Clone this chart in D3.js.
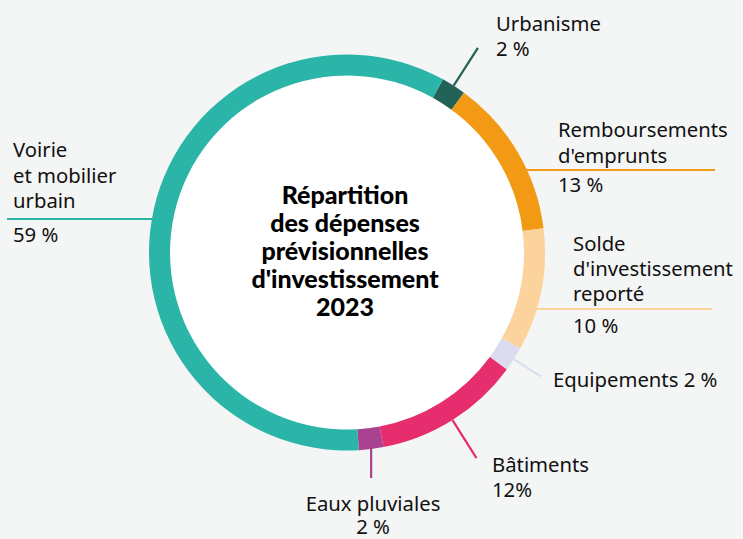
<!DOCTYPE html>
<html>
<head>
<meta charset="utf-8">
<script src="https://cdn.jsdelivr.net/npm/d3@7"></script>
<style>
  body { margin: 0; background: #f4f5f5; }
  svg { display: block; }
</style>
</head>
<body>
<script>
// data, clockwise from Urbanisme
var categories = ["Urbanisme", "Remboursements d'emprunts", "Solde d'investissement reporté",
    "Equipements", "Bâtiments", "Eaux pluviales", "Voirie et mobilier urbain"];
var values = [2, 13, 10, 2, 12, 2, 59];
var colors = ["#236357", "#f39a14", "#fdd39d", "#dcdcf0", "#e62d6e", "#a8428f", "#2bb5a9"];
var labelLines = [
    ["Urbanisme", "2 %"],
    ["Remboursements", "d'emprunts", "13 %"],
    ["Solde", "d'investissement", "reporté", "10 %"],
    ["Equipements 2 %"],
    ["Bâtiments", "12%"],
    ["Eaux pluviales", "2 %"],
    ["Voirie", "et mobilier", "urbain", "59 %"]
];
var titleLines = ["Répartition", "des dépenses", "prévisionnelles", "d'investissement", "2023"];

// layout of labels and leaders
var layout = [
    { leader: "radial", r2: 243, x: 496, y: 31, gaps: [25] },
    { leader: "h", ly: 170, x2: 715, x: 558, y: 137, gaps: [26, 29] },
    { leader: "h", ly: 309, x2: 712, x: 573, y: 251, gaps: [25, 25, 32] },
    { leader: "radial", r2: 230, x: 553, y: 387, gaps: [] },
    { leader: "radial", r2: 243, x: 492, y: 472, gaps: [25] },
    { leader: "v", len: 30, x: 373, y: 511, gaps: [23], anchor: "middle" },
    { leader: "h", ly: 219, x2: 7, x: 13, y: 157, gaps: [26, 25, 34] }
];

var W = 743, H = 539;
var cx = 347, cy = 252.5, rOut = 198, rIn = 177;
var startDeg = 29;

var svg = d3.select("body")
    .append("svg")
    .attr("width", W)
    .attr("height", H);

var g = svg.append("g")
    .attr("transform", "translate(" + cx + "," + cy + ")");

var pie = d3.pie()
    .sort(null)
    .value(function (d) { return d; })
    .startAngle(startDeg * Math.PI / 180)
    .endAngle(startDeg * Math.PI / 180 + 2 * Math.PI);

var arcs = pie(values);

var arc = d3.arc()
    .innerRadius(rIn)
    .outerRadius(rOut);

g.append("circle")
    .attr("r", rIn)
    .attr("fill", "#ffffff");

g.selectAll("path.slice")
    .data(arcs)
    .enter()
    .append("path")
    .attr("class", "slice")
    .attr("d", arc)
    .attr("fill", function (d, i) { return colors[i]; });

// leaders
arcs.forEach(function (d, i) {
    var L = layout[i];
    var mid = (d.startAngle + d.endAngle) / 2;
    var x1, y1, x2, y2;
    if (L.leader === "radial") {
        x1 = rOut * Math.sin(mid); y1 = -rOut * Math.cos(mid);
        x2 = L.r2 * Math.sin(mid); y2 = -L.r2 * Math.cos(mid);
    } else if (L.leader === "v") {
        x1 = rOut * Math.sin(mid); y1 = -rOut * Math.cos(mid) - 1;
        x2 = x1; y2 = y1 + L.len;
    } else {
        var dy = L.ly - cy;
        var dx = Math.sqrt(rOut * rOut - dy * dy) - 1;
        x1 = (L.x2 > cx ? dx : -dx); y1 = dy;
        x2 = L.x2 - cx; y2 = dy;
    }
    g.append("line")
        .attr("x1", x1)
        .attr("y1", y1)
        .attr("x2", x2)
        .attr("y2", y2)
        .attr("stroke", colors[i])
        .attr("stroke-width", 2.2);
});

// labels
labelLines.forEach(function (lines, i) {
    var L = layout[i];
    var t = svg.append("text")
        .attr("font-family", "'Noto Sans', sans-serif")
        .attr("font-size", 20.3)
        .attr("fill", "#111111")
        .attr("text-anchor", L.anchor || "start");
    var y = L.y;
    lines.forEach(function (s, k) {
        if (k > 0) y += L.gaps[k - 1];
        t.append("tspan")
            .attr("x", L.x)
            .attr("y", y)
            .text(s);
    });
});

// title
var title = svg.append("text")
    .attr("font-family", "Lato, sans-serif")
    .attr("font-weight", 900)
    .attr("font-size", 25)
    .attr("fill", "#000000")
    .attr("text-anchor", "middle");
titleLines.forEach(function (s, k) {
    title.append("tspan")
        .attr("x", 345)
        .attr("y", 204 + k * 28)
        .text(s);
});
</script>
</body>
</html>
